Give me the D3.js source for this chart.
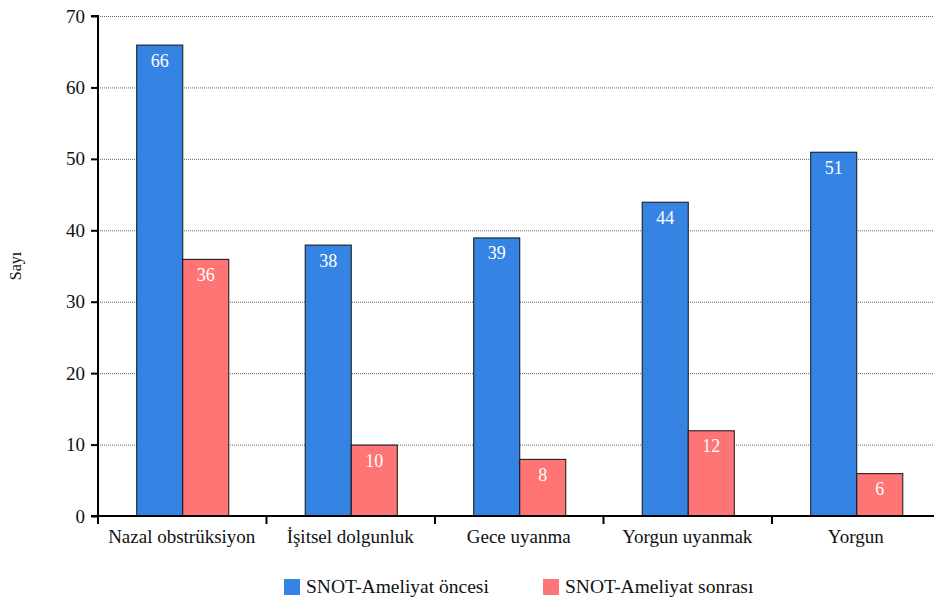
<!DOCTYPE html>
<html>
<head>
<meta charset="utf-8">
<script src="https://cdn.jsdelivr.net/npm/d3@7"></script>
</head>
<body style="margin:0;background:#fff">
<svg id="chart" width="934" height="597" font-family="Liberation Serif"></svg>
<script>
const categories = ["Nazal obstrüksiyon", "İşitsel dolgunluk", "Gece uyanma", "Yorgun uyanmak", "Yorgun"];
const seriesNames = ["SNOT-Ameliyat öncesi", "SNOT-Ameliyat sonrası"];
const before = [66, 38, 39, 44, 51];
const after = [36, 10, 8, 12, 6];
const yTicks = [0, 10, 20, 30, 40, 50, 60, 70];
const colors = ["#3584e4", "#ff7576"];

const FONT = "Liberation Serif";
const svg = d3.select("#chart");
const margin = { left: 98, top: 16, bottom: 81 };
const plotRight = 940.5;
const height = 597;

const x = d3.scaleBand().domain(categories).range([margin.left, plotRight]).paddingInner(0).paddingOuter(0);
const inner = d3.scaleBand().domain(seriesNames).range([0, x.bandwidth()]).paddingInner(0).paddingOuter(0.83);
const y = d3.scaleLinear().domain([0, 70]).range([height - margin.bottom, margin.top]);

// dotted gridlines
svg.append("g").selectAll("line").data(yTicks.filter(d => d > 0)).join("line")
  .attr("x1", margin.left).attr("x2", 934)
  .attr("y1", d => y(d) + 0.5).attr("y2", d => y(d) + 0.5)
  .attr("stroke", "#666").attr("stroke-width", 1).attr("stroke-dasharray", "1,1");

const rows = categories.map((c, i) => ({ c, vals: [before[i], after[i]] }));

const groups = svg.append("g").selectAll("g").data(rows).join("g")
  .attr("transform", d => `translate(${x(d.c)},0)`);

groups.selectAll("rect").data(d => d.vals.map((v, j) => ({ v, s: seriesNames[j], j }))).join("rect")
  .attr("x", d => inner(d.s) + 0.5)
  .attr("y", d => y(d.v) + 0.5)
  .attr("width", inner.bandwidth())
  .attr("height", d => y(0) - y(d.v))
  .attr("fill", d => colors[d.j])
  .attr("stroke", "#111").attr("stroke-width", 1);

// value labels inside the top of each bar
groups.selectAll("text").data(d => d.vals.map((v, j) => ({ v, s: seriesNames[j], j }))).join("text")
  .attr("x", d => inner(d.s) + inner.bandwidth() / 2 + 0.5)
  .attr("y", d => y(d.v) + 22)
  .attr("text-anchor", "middle")
  .attr("fill", "#fff")
  .attr("font-family", FONT)
  .attr("font-size", 18)
  .text(d => d.v);

// y axis
const yAxis = svg.append("g").attr("transform", `translate(${margin.left},0)`)
  .call(d3.axisLeft(y).tickValues(yTicks).tickSize(7).tickPadding(6));
yAxis.attr("font-family", FONT);
yAxis.select(".domain").attr("stroke", "#000").attr("stroke-width", 2)
  .attr("d", `M-7,${y(70)}H0V${y(0) + 8}`);
yAxis.selectAll(".tick line").attr("stroke", "#000").attr("stroke-width", 2);
yAxis.selectAll(".tick text").attr("font-family", FONT).attr("font-size", 19).attr("fill", "#111");

// x axis
const xAxis = svg.append("g").attr("transform", `translate(0,${y(0)})`);
xAxis.append("line").attr("x1", margin.left - 7).attr("x2", 934)
  .attr("y1", 0).attr("y2", 0).attr("stroke", "#000").attr("stroke-width", 2);
xAxis.selectAll("line.tk").data(categories.slice(1)).join("line").attr("class", "tk")
  .attr("x1", d => x(d)).attr("x2", d => x(d)).attr("y1", 0).attr("y2", 8)
  .attr("stroke", "#000").attr("stroke-width", 2);
xAxis.selectAll("text").data(categories).join("text")
  .attr("x", d => x(d) + x.bandwidth() / 2 - 0.5)
  .attr("y", 27)
  .attr("text-anchor", "middle")
  .attr("font-family", FONT)
  .attr("font-size", 19).attr("fill", "#111")
  .text(d => d);

// y label
svg.append("text")
  .attr("transform", "translate(21,266) rotate(-90)")
  .attr("text-anchor", "middle")
  .attr("font-family", FONT)
  .attr("font-size", 16).attr("fill", "#111")
  .text("Sayı");

// legend
const legendX = [284, 543];
const legend = svg.append("g").selectAll("g").data(seriesNames).join("g")
  .attr("transform", (d, i) => `translate(${legendX[i]},579)`);
legend.append("rect").attr("width", 16).attr("height", 16).attr("fill", (d, i) => colors[i]);
legend.append("text").attr("x", 22).attr("y", 14)
  .attr("font-family", FONT)
  .attr("font-size", 19.5).attr("fill", "#111").text(d => d);
</script>
</body>
</html>
